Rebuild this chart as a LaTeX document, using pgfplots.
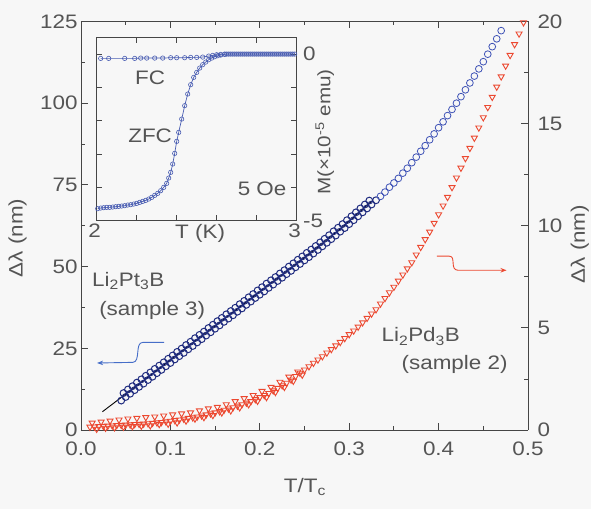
\documentclass[border=0pt]{standalone}
\usepackage{fontspec}
\setmainfont{Liberation Sans}[FakeStretch=1.15]
\usepackage{pgfplots}
\pgfplotsset{compat=1.18}
\usetikzlibrary{arrows.meta}
\definecolor{bluedk}{RGB}{32,44,128}
\definecolor{bluelt}{RGB}{62,82,182}
\definecolor{redpt}{RGB}{236,72,48}
\definecolor{insetblue}{RGB}{72,92,178}
\definecolor{arrblue}{RGB}{70,110,200}
\definecolor{txt}{RGB}{85,85,85}
\definecolor{axcol}{RGB}{70,70,70}
\definecolor{bg}{RGB}{247,247,247}
\newcommand\fs{\fontsize{19.5bp}{22bp}\selectfont}
\begin{document}
\begin{tikzpicture}
\fill[bg] (-81bp,-79bp) rectangle (510bp,430bp);
\useasboundingbox (-81bp,-79bp) rectangle (510bp,430bp);
\pgfplotsset{
  every axis/.append style={
    scale only axis,
    axis line style={axcol, line width=0.8bp},
    tick style={axcol, line width=0.8bp},
    tick align=inside,
    tick label style={font=\fs, text=txt},
    label style={font=\fs, text=txt},
    /pgf/number format/assume math mode=true,
    major tick length=7bp, minor tick length=4bp,
  }
}
% ---------------- main axis, left scale ----------------
\begin{axis}[at={(0,0)}, anchor=south west, width=447bp, height=408.5bp,
  xmin=0, xmax=0.5, ymin=0, ymax=125,
  axis y line*=left,
  xtick={0,0.1,0.2,0.3,0.4,0.5}, xticklabels={0.0,0.1,0.2,0.3,0.4,0.5},
  minor xtick={0.05,0.15,0.25,0.35,0.45},
  xticklabel style={yshift=-8bp},
  ytick={0,25,50,75,100,125}, minor ytick={12.5,37.5,62.5,87.5,112.5},
  xlabel={T/T\textsubscript{c}}, ylabel={Δλ (nm)},
  xlabel style={at={(axis description cs:0.501,-0.14)}, anchor=center},
  ylabel style={at={(axis description cs:-0.142,0.47)}, anchor=center},
  clip=false]
\addplot[only marks, mark=o, mark size=3.4bp, color=bluedk, mark options={line width=1bp}] coordinates {
(0.045,9.0)(0.050,10.1)(0.055,11.1)(0.060,12.2)(0.065,13.2)(0.070,14.2)(0.075,15.3)(0.080,16.3)
(0.085,17.4)(0.090,18.4)(0.095,19.5)(0.100,20.5)(0.105,21.6)(0.110,22.6)(0.115,23.6)(0.120,24.7)
(0.125,25.7)(0.130,26.8)(0.135,27.8)(0.140,28.9)(0.145,29.9)(0.150,31.0)(0.155,32.0)(0.160,33.1)
(0.165,34.1)(0.170,35.1)(0.175,36.2)(0.180,37.2)(0.185,38.3)(0.190,39.3)(0.195,40.4)(0.200,41.4)
(0.205,42.4)(0.210,43.5)(0.215,44.5)(0.220,45.6)(0.225,46.6)(0.230,47.7)(0.235,48.7)(0.240,49.8)
(0.245,50.8)(0.250,51.9)(0.255,52.9)(0.260,54.0)(0.265,55.1)(0.270,56.2)(0.275,57.3)(0.280,58.4)
(0.285,59.5)(0.290,60.7)(0.295,61.8)(0.300,63.0)(0.305,64.2)(0.310,65.4)(0.315,66.6)(0.320,67.8)
(0.325,69.0)(0.330,70.3)
};
\addplot[only marks, mark=o, mark size=3.4bp, color=bluedk, mark options={line width=1bp}] coordinates {
(0.0475,11.3)(0.0525,12.4)(0.0575,13.4)(0.0625,14.5)(0.0675,15.5)(0.0725,16.6)(0.0775,17.6)(0.0825,18.7)
(0.0875,19.7)(0.0925,20.7)(0.0975,21.8)(0.1025,22.8)(0.1075,23.9)(0.1125,24.9)(0.1175,26.0)(0.1225,27.0)
(0.1275,28.1)(0.1325,29.1)(0.1375,30.1)(0.1425,31.2)(0.1475,32.2)(0.1525,33.3)(0.1575,34.3)(0.1625,35.4)
(0.1675,36.4)(0.1725,37.4)(0.1775,38.5)(0.1825,39.5)(0.1875,40.6)(0.1925,41.6)(0.1975,42.7)(0.2025,43.7)
(0.2075,44.8)(0.2125,45.8)(0.2175,46.8)(0.2225,47.9)(0.2275,48.9)(0.2325,50.0)(0.2375,51.0)(0.2425,52.1)
(0.2475,53.1)(0.2525,54.2)(0.2575,55.2)(0.2625,56.3)(0.2675,57.4)(0.2725,58.5)(0.2775,59.6)(0.2825,60.8)
(0.2875,61.9)(0.2925,63.0)(0.2975,64.2)(0.3025,65.4)(0.3075,66.6)(0.3125,67.8)(0.3175,69.0)(0.3225,70.2)
};
\addplot[only marks, mark=o, mark size=3.4bp, color=bluelt, mark options={line width=0.8bp}] coordinates {
(0.335,71.5)(0.340,72.8)(0.345,74.3)(0.350,75.6)(0.355,77.0)(0.360,78.6)
(0.365,80.1)(0.370,81.8)(0.375,83.5)(0.380,85.3)(0.385,87.0)(0.390,88.8)(0.395,90.6)(0.400,92.5)
(0.405,94.3)(0.410,96.2)(0.415,98.1)(0.420,100.0)(0.425,102.0)(0.430,104.1)(0.435,106.2)(0.440,108.3)
(0.445,110.5)(0.450,112.7)(0.455,115.0)(0.460,117.3)(0.465,119.7)(0.470,122.2)
};
\addplot[black, line width=0.9bp, smooth] coordinates {
(0.024,5.6)(0.05,11.0)(0.1,21.4)(0.15,31.9)(0.2,42.3)(0.25,52.8)(0.28,59.3)(0.30,63.9)(0.325,70.0)
};
\node[anchor=west, font=\fs, text=txt, inner sep=0pt] at (axis cs:0.0123,45.7) {Li\textsubscript{2}Pt\textsubscript{3}B};
\node[anchor=west, font=\fs, text=txt, inner sep=0pt] at (axis cs:0.0202,36.5) {(sample 3)};
\node[anchor=west, font=\fs, text=txt, inner sep=0pt] at (axis cs:0.336,28.6) {Li\textsubscript{2}Pd\textsubscript{3}B};
\node[anchor=west, font=\fs, text=txt, inner sep=0pt] at (axis cs:0.3584,20.0) {(sample 2)};
\draw[arrblue, line width=0.9bp, -{Stealth[length=6bp,width=4.5bp]}]
  (axis cs:0.093,26.8) -- (axis cs:0.069,26.8)
  .. controls (axis cs:0.060,26.8) and (axis cs:0.067,20.8) .. (axis cs:0.058,20.7)
  -- (axis cs:0.018,20.5);
\end{axis}
% ---------------- main axis, right scale ----------------
\begin{axis}[at={(0,0)}, anchor=south west, width=447bp, height=408.5bp,
  xmin=0, xmax=0.5, ymin=0, ymax=20,
  axis y line*=right, axis x line=none,
  ytick={0,5,10,15,20}, minor ytick={2.5,7.5,12.5,17.5},
  yticklabel style={xshift=6bp},
  ylabel={Δλ (nm)},
  ylabel style={at={(axis description cs:1.116,0.455)}, anchor=center},
  clip=false]
\addplot[only marks, mark=triangle, mark size=3.5bp, color=redpt, mark options={rotate=180, line width=0.9bp}] coordinates {
(0.010,0.15)(0.015,0.16)(0.020,0.18)(0.025,0.19)(0.030,0.20)(0.035,0.21)(0.040,0.23)(0.045,0.24)
(0.050,0.25)(0.055,0.26)(0.060,0.28)(0.065,0.29)(0.070,0.30)(0.075,0.32)(0.080,0.34)(0.085,0.36)
(0.090,0.38)(0.095,0.41)(0.100,0.44)(0.105,0.47)(0.110,0.50)(0.115,0.54)(0.120,0.58)(0.125,0.61)
(0.130,0.65)(0.135,0.70)(0.140,0.75)(0.145,0.80)(0.150,0.85)(0.155,0.91)(0.160,0.98)(0.165,1.04)
(0.170,1.10)(0.175,1.18)(0.180,1.25)(0.185,1.33)(0.190,1.40)(0.195,1.50)(0.200,1.60)(0.205,1.70)
(0.210,1.80)(0.215,1.93)(0.220,2.05)(0.225,2.18)(0.230,2.30)(0.235,2.46)(0.240,2.63)(0.245,2.79)
(0.250,2.95)(0.255,3.11)(0.260,3.28)(0.265,3.44)(0.270,3.60)(0.275,3.78)(0.280,3.95)(0.285,4.13)
(0.290,4.30)(0.295,4.49)(0.300,4.68)(0.305,4.86)(0.310,5.05)(0.315,5.26)(0.320,5.48)(0.325,5.69)
(0.330,5.90)(0.335,6.18)(0.340,6.45)(0.345,6.73)(0.350,7.00)(0.355,7.30)(0.360,7.60)(0.365,7.90)
(0.370,8.20)(0.375,8.58)(0.380,8.95)(0.385,9.33)(0.390,9.70)(0.395,10.13)(0.400,10.55)(0.405,10.98)
(0.410,11.40)(0.415,11.88)(0.420,12.35)(0.425,12.83)(0.430,13.30)(0.435,13.80)(0.440,14.30)(0.445,14.80)
(0.450,15.30)(0.455,15.80)(0.460,16.30)(0.465,16.80)(0.470,17.30)(0.475,17.83)(0.480,18.35)(0.485,18.88)
(0.490,19.40)(0.495,19.95)
};
\addplot[only marks, mark=triangle, mark size=3.5bp, color=redpt, mark options={rotate=180, line width=0.9bp}] coordinates {
(0.0125,0.35)(0.0175,0.05)(0.0225,0.40)(0.0275,0.10)(0.0325,0.45)(0.0375,0.12)(0.0425,0.50)(0.0475,0.15)
(0.0525,0.55)(0.0575,0.18)(0.0625,0.58)(0.0675,0.20)(0.0725,0.62)(0.0775,0.22)(0.0825,0.65)(0.0875,0.28)
(0.0925,0.70)(0.0975,0.30)(0.1025,0.75)(0.1075,0.36)(0.1125,0.80)(0.1175,0.45)(0.1225,0.85)(0.1275,0.55)
(0.1325,0.95)(0.1375,0.62)(0.1425,1.05)(0.1475,0.72)(0.1525,1.12)(0.1575,0.85)(0.1625,1.25)(0.1675,0.95)
(0.1725,1.40)(0.1775,1.10)(0.1825,1.55)(0.1875,1.25)(0.1925,1.70)(0.1975,1.42)(0.2025,1.90)(0.2075,1.60)
(0.2125,2.10)(0.2175,1.85)(0.2225,2.35)(0.2275,2.10)(0.2325,2.60)(0.2375,2.40)(0.2425,2.85)(0.2475,2.70)
};
\draw[redpt, line width=0.9bp, -{Stealth[length=6bp,width=4.5bp]}]
  (axis cs:0.398,8.51) -- (axis cs:0.412,8.51)
  .. controls (axis cs:0.420,8.51) and (axis cs:0.412,7.82) .. (axis cs:0.422,7.82)
  -- (axis cs:0.476,7.82);
\end{axis}
% ---------------- inset ----------------
\begin{axis}[at={(15.7bp,209.3bp)}, anchor=south west, width=200bp, height=183.3bp,
  xmin=2, xmax=3, ymin=-5, ymax=0.5,
  xtick={2,3}, minor xtick={2.2,2.4,2.6,2.8},
  ytick={-5,0}, yticklabels={-5,0}, minor ytick={-4,-3,-2,-1},
  xtick pos=both, xticklabel pos=bottom, ytick pos=both, yticklabel pos=right,
  yticklabel style={xshift=3bp},
  xticklabel style={xshift=-2bp},
  major tick length=5.5bp, minor tick length=5.5bp,
  xlabel={T (K)}, ylabel={M(×10\textsuperscript{-5} emu)},
  xlabel style={at={(axis description cs:0.517,-0.067)}, anchor=center},
  ylabel style={at={(axis description cs:1.14,0.484)}, anchor=center, font=\fontsize{18bp}{20bp}\selectfont},
  ]
\addplot[color=insetblue, line width=0.7bp, mark=o, mark size=2.2bp, mark options={line width=0.6bp}] coordinates {
(2.02,-0.13)(2.06,-0.13)(2.14,-0.13)(2.19,-0.13)(2.22,-0.12)(2.25,-0.12)(2.29,-0.12)(2.33,-0.12)
(2.37,-0.11)(2.40,-0.11)(2.44,-0.11)(2.47,-0.10)(2.50,-0.10)(2.53,-0.09)(2.56,-0.06)(2.58,-0.04)
(2.60,-0.02)(2.62,-0.01)(2.64,0)(2.66,0)(2.68,0)(2.70,0)(2.72,0)(2.74,0)(2.76,0)(2.78,0)(2.80,0)
(2.82,0)(2.84,0)(2.86,0)(2.88,0)(2.90,0)(2.92,0)(2.94,0)(2.96,0)(2.98,0)
};
\addplot[color=insetblue, line width=0.7bp, mark=o, mark size=2.2bp, mark options={line width=0.6bp}] coordinates {
(2.005,-4.64)(2.02,-4.62)(2.035,-4.61)(2.05,-4.60)(2.065,-4.60)(2.08,-4.59)(2.095,-4.58)(2.11,-4.57)
(2.125,-4.56)(2.14,-4.55)(2.155,-4.53)(2.17,-4.52)(2.185,-4.50)(2.20,-4.48)(2.215,-4.45)(2.23,-4.42)
(2.245,-4.39)(2.26,-4.35)(2.275,-4.30)(2.29,-4.24)(2.305,-4.18)(2.32,-4.10)(2.335,-4.00)(2.35,-3.88)
(2.36,-3.72)(2.37,-3.55)(2.38,-3.30)(2.39,-2.98)(2.40,-2.62)(2.41,-2.35)(2.425,-1.95)(2.44,-1.55)
(2.455,-1.20)(2.47,-0.92)(2.485,-0.70)(2.50,-0.55)(2.515,-0.42)(2.53,-0.32)(2.545,-0.24)(2.56,-0.17)
(2.575,-0.12)(2.59,-0.08)(2.605,-0.05)(2.62,-0.03)(2.64,-0.01)(2.65,0)(2.67,0)(2.69,0)(2.71,0)
(2.73,0)(2.75,0)(2.77,0)(2.79,0)(2.81,0)(2.83,0)(2.85,0)(2.87,0)(2.89,0)(2.91,0)(2.93,0)(2.95,0)
(2.97,0)(2.99,0)
};
\node[font=\fs, text=txt] at (axis cs:2.267,-0.71) {FC};
\node[font=\fs, text=txt] at (axis cs:2.267,-2.45) {ZFC};
\node[font=\fs, text=txt] at (axis cs:2.827,-4.04) {5 Oe};
\end{axis}
\end{tikzpicture}
\end{document}
